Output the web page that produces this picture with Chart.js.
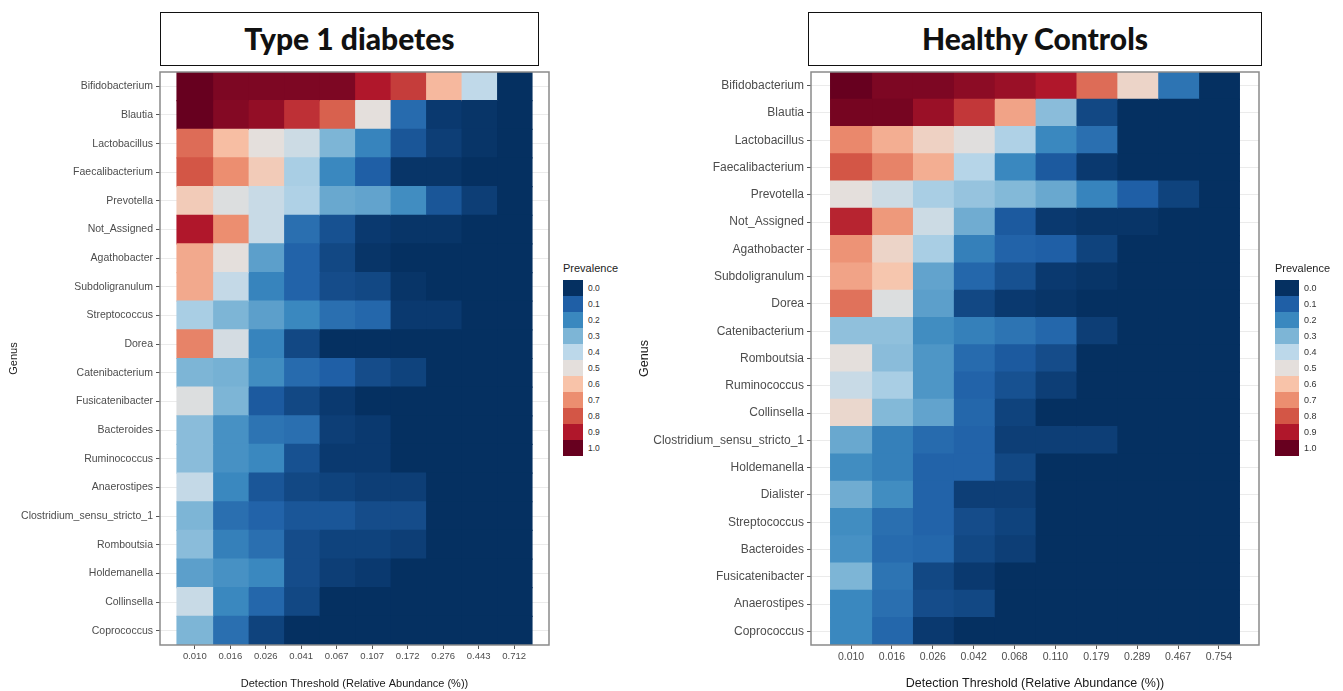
<!DOCTYPE html>
<html>
<head>
<meta charset="utf-8">
<script src="https://cdn.jsdelivr.net/npm/chart.js@4.4.1/dist/chart.umd.min.js"></script>
<style>
  body { margin: 0; width: 1343px; height: 691px; background: #fff; position: relative; overflow: hidden; font-family: "Liberation Sans", Arial, sans-serif; }
  .panel { position: absolute; top: 0; height: 691px; }
  .title { position: absolute; top: 12px; height: 54px; box-sizing: border-box; border: 1.5px solid #111; background: #fff;
           font-family: Lato, sans-serif; font-weight: 900; font-size: 30px; line-height: 51px; text-align: center; color: #111; }
  .legend { position: absolute; top: 262px; }
  .legend .head { font-size: 11px; color: #222; height: 18px; }
  .key { display: flex; align-items: center; height: 16px; }
  .key .sw { height: 16px; }
  .key .lb { font-size: 8.5px; margin-left: 5px; color: #333; }
</style>
</head>
<body>
<div class="title" style="left:160px;width:379px">Type 1 diabetes</div>
<div class="title" style="left:808px;width:454px">Healthy Controls</div>
<div class="panel" style="left:0;width:560px"><canvas id="t1dHeat"></canvas></div>
<div class="panel" style="left:630px;width:713px"><canvas id="hcHeat"></canvas></div>
<div class="legend" id="t1dLegend" style="left:563px"></div>
<div class="legend" id="hcLegend" style="left:1275px"></div>

<script>
// Type 1 diabetes panel
const t1dThresholds = ['0.010', '0.016', '0.026', '0.041', '0.067', '0.107', '0.172', '0.276', '0.443', '0.712'];
const t1dGenera = ['Bifidobacterium', 'Blautia', 'Lactobacillus', 'Faecalibacterium', 'Prevotella', 'Not_Assigned',
  'Agathobacter', 'Subdoligranulum', 'Streptococcus', 'Dorea', 'Catenibacterium', 'Fusicatenibacter', 'Bacteroides',
  'Ruminococcus', 'Anaerostipes', 'Clostridium_sensu_stricto_1', 'Romboutsia', 'Holdemanella', 'Collinsella', 'Coprococcus'];
const t1dPrevalence = [
  [1.00, 0.97, 0.97, 0.97, 0.97, 0.90, 0.84, 0.62, 0.41, 0.00],
  [1.00, 0.96, 0.94, 0.86, 0.78, 0.50, 0.13, 0.02, 0.01, 0.00],
  [0.76, 0.61, 0.50, 0.44, 0.30, 0.19, 0.08, 0.03, 0.01, 0.00],
  [0.80, 0.70, 0.57, 0.37, 0.20, 0.10, 0.01, 0.01, 0.00, 0.00],
  [0.57, 0.48, 0.43, 0.38, 0.27, 0.26, 0.21, 0.08, 0.03, 0.00],
  [0.90, 0.70, 0.43, 0.14, 0.07, 0.02, 0.01, 0.01, 0.00, 0.00],
  [0.65, 0.50, 0.25, 0.11, 0.05, 0.01, 0.00, 0.00, 0.00, 0.00],
  [0.65, 0.42, 0.19, 0.11, 0.06, 0.05, 0.01, 0.00, 0.00, 0.00],
  [0.37, 0.30, 0.25, 0.20, 0.14, 0.12, 0.02, 0.02, 0.00, 0.00],
  [0.72, 0.46, 0.19, 0.05, 0.00, 0.00, 0.00, 0.00, 0.00, 0.00],
  [0.30, 0.29, 0.21, 0.13, 0.10, 0.06, 0.04, 0.00, 0.00, 0.00],
  [0.48, 0.30, 0.09, 0.05, 0.02, 0.00, 0.00, 0.00, 0.00, 0.00],
  [0.32, 0.22, 0.15, 0.14, 0.03, 0.02, 0.00, 0.00, 0.00, 0.00],
  [0.32, 0.22, 0.20, 0.07, 0.02, 0.02, 0.00, 0.00, 0.00, 0.00],
  [0.42, 0.20, 0.08, 0.05, 0.04, 0.03, 0.03, 0.00, 0.00, 0.00],
  [0.30, 0.14, 0.11, 0.08, 0.08, 0.06, 0.06, 0.00, 0.00, 0.00],
  [0.32, 0.18, 0.14, 0.06, 0.04, 0.04, 0.03, 0.00, 0.00, 0.00],
  [0.25, 0.22, 0.20, 0.06, 0.03, 0.02, 0.00, 0.00, 0.00, 0.00],
  [0.43, 0.20, 0.12, 0.05, 0.00, 0.00, 0.00, 0.00, 0.00, 0.00],
  [0.30, 0.14, 0.04, 0.00, 0.00, 0.00, 0.00, 0.00, 0.00, 0.00]
];

// Healthy controls panel
const hcThresholds = ['0.010', '0.016', '0.026', '0.042', '0.068', '0.110', '0.179', '0.289', '0.467', '0.754'];
const hcGenera = ['Bifidobacterium', 'Blautia', 'Lactobacillus', 'Faecalibacterium', 'Prevotella', 'Not_Assigned',
  'Agathobacter', 'Subdoligranulum', 'Dorea', 'Catenibacterium', 'Romboutsia', 'Ruminococcus', 'Collinsella',
  'Clostridium_sensu_stricto_1', 'Holdemanella', 'Dialister', 'Streptococcus', 'Bacteroides', 'Fusicatenibacter',
  'Anaerostipes', 'Coprococcus'];
const hcPrevalence = [
  [1.00, 0.97, 0.97, 0.95, 0.93, 0.90, 0.76, 0.54, 0.15, 0.00],
  [0.98, 0.98, 0.93, 0.85, 0.66, 0.32, 0.05, 0.00, 0.00, 0.00],
  [0.71, 0.64, 0.55, 0.49, 0.38, 0.20, 0.14, 0.00, 0.00, 0.00],
  [0.80, 0.72, 0.64, 0.39, 0.20, 0.09, 0.02, 0.00, 0.00, 0.00],
  [0.50, 0.44, 0.37, 0.34, 0.31, 0.27, 0.19, 0.10, 0.04, 0.00],
  [0.88, 0.68, 0.44, 0.28, 0.09, 0.02, 0.01, 0.01, 0.00, 0.00],
  [0.69, 0.54, 0.37, 0.18, 0.11, 0.10, 0.04, 0.00, 0.00, 0.00],
  [0.66, 0.59, 0.26, 0.12, 0.07, 0.02, 0.01, 0.00, 0.00, 0.00],
  [0.75, 0.48, 0.25, 0.05, 0.02, 0.01, 0.00, 0.00, 0.00, 0.00],
  [0.33, 0.33, 0.21, 0.18, 0.15, 0.12, 0.03, 0.00, 0.00, 0.00],
  [0.50, 0.32, 0.23, 0.13, 0.09, 0.06, 0.00, 0.00, 0.00, 0.00],
  [0.43, 0.37, 0.23, 0.11, 0.07, 0.03, 0.00, 0.00, 0.00, 0.00],
  [0.53, 0.31, 0.26, 0.12, 0.04, 0.00, 0.00, 0.00, 0.00, 0.00],
  [0.27, 0.18, 0.13, 0.11, 0.03, 0.03, 0.03, 0.00, 0.00, 0.00],
  [0.21, 0.18, 0.11, 0.11, 0.05, 0.00, 0.00, 0.00, 0.00, 0.00],
  [0.28, 0.21, 0.11, 0.03, 0.03, 0.00, 0.00, 0.00, 0.00, 0.00],
  [0.21, 0.14, 0.11, 0.06, 0.04, 0.00, 0.00, 0.00, 0.00, 0.00],
  [0.22, 0.13, 0.12, 0.05, 0.03, 0.00, 0.00, 0.00, 0.00, 0.00],
  [0.30, 0.15, 0.05, 0.02, 0.00, 0.00, 0.00, 0.00, 0.00, 0.00],
  [0.20, 0.14, 0.06, 0.05, 0.00, 0.00, 0.00, 0.00, 0.00, 0.00],
  [0.20, 0.12, 0.02, 0.00, 0.00, 0.00, 0.00, 0.00, 0.00, 0.00]
];

// legend breaks and the diverging palette (one stop per break)
const legendBreaks = [0.0, 0.1, 0.2, 0.3, 0.4, 0.5, 0.6, 0.7, 0.8, 0.9, 1.0];
const paletteStops = ['#053061', '#1f5fa6', '#3a88bf', '#7db5d6', '#bcd8ea', '#e4dfdc',
                      '#f8c3a9', '#ec8e70', '#d35646', '#b0172b', '#67001f'];

function hexToRgb(h) {
  return [parseInt(h.slice(1, 3), 16), parseInt(h.slice(3, 5), 16), parseInt(h.slice(5, 7), 16)];
}

function prevalenceColor(v) {
  const pos = Math.max(0, Math.min(1, v)) * (paletteStops.length - 1);
  const i = Math.min(Math.floor(pos), paletteStops.length - 2);
  const f = pos - i;
  const a = hexToRgb(paletteStops[i]), b = hexToRgb(paletteStops[i + 1]);
  const c = a.map((x, k) => Math.round(x + (b[k] - x) * f));
  return `rgb(${c[0]},${c[1]},${c[2]})`;
}

// grey frame round the plotting area
const panelBorder = {
  id: 'panelBorder',
  afterDraw(chart) {
    const {ctx, chartArea: a} = chart;
    ctx.save();
    ctx.strokeStyle = '#8a8a8a';
    ctx.lineWidth = 1.5;
    ctx.strokeRect(a.left, a.top, a.right - a.left, a.bottom - a.top);
    ctx.restore();
  }
};

function heatmap(canvasId, genera, thresholds, prevalence, o) {
  const datasets = thresholds.map((t, j) => ({
    label: t,
    data: genera.map(() => 1),
    backgroundColor: prevalence.map(row => prevalenceColor(row[j])),
    borderWidth: 0,
    inflateAmount: 0.6,
    barPercentage: 1,
    categoryPercentage: 1
  }));

  return new Chart(document.getElementById(canvasId), {
    type: 'bar',
    data: { labels: genera, datasets: datasets },
    plugins: [panelBorder],
    options: {
      indexAxis: 'y',
      maintainAspectRatio: false,
      animation: false,
      layout: { padding: { top: 72, right: o.padRight, bottom: 0, left: 0 } },
      plugins: {
        legend: { display: false },
        tooltip: { enabled: false }
      },
      scales: {
        x: {
          type: 'linear',
          stacked: true,
          min: -0.48,
          max: thresholds.length + 0.48,
          afterBuildTicks: axis => { axis.ticks = thresholds.map((t, i) => ({ value: i + 0.5 })); },
          afterFit: axis => { axis.height = 46; },
          ticks: {
            autoSkip: false,
            maxRotation: 0,
            padding: 2,
            color: '#4d4d4d',
            font: { family: 'Liberation Sans', size: o.xTick },
            callback: (v, i) => thresholds[i]
          },
          grid: { color: '#ebebeb', tickLength: 4, tickColor: '#555' },
          border: { display: false },
          title: {
            display: true,
            text: 'Detection Threshold (Relative Abundance (%))',
            color: '#1a1a1a',
            font: { family: 'Liberation Sans', size: o.axisTitle },
            padding: { top: 0, bottom: 0 }
          }
        },
        y: {
          type: 'category',
          stacked: true,
          offset: true,
          afterFit: axis => { axis.width = o.yWidth; },
          ticks: {
            padding: 3,
            color: '#4d4d4d',
            font: { family: 'Liberation Sans', size: o.yTick }
          },
          grid: { offset: false, color: '#ebebeb', tickLength: 4, tickColor: '#555' },
          border: { display: false },
          title: {
            display: true,
            text: 'Genus',
            color: '#1a1a1a',
            font: { family: 'Liberation Sans', size: o.axisTitle },
            padding: { top: 7, bottom: 0 }
          }
        }
      }
    }
  });
}

function buildLegend(el, keyWidth, labelSize) {
  let html = '<div class="head">Prevalence</div>';
  legendBreaks.forEach(b => {
    html += `<div class="key"><span class="sw" style="width:${keyWidth}px;background:${prevalenceColor(b)}"></span>` +
            `<span class="lb" style="font-size:${labelSize}px">${b.toFixed(1)}</span></div>`;
  });
  document.getElementById(el).innerHTML = html;
}

heatmap('t1dHeat', t1dGenera, t1dThresholds, t1dPrevalence,
  { yWidth: 160, padRight: 11, xTick: 9.5, yTick: 10.5, axisTitle: 11 });
heatmap('hcHeat', hcGenera, hcThresholds, hcPrevalence,
  { yWidth: 181, padRight: 84, xTick: 10.5, yTick: 12, axisTitle: 12.5 });

buildLegend('t1dLegend', 20, 8.5);
buildLegend('hcLegend', 24, 9);
</script>
</body>
</html>
